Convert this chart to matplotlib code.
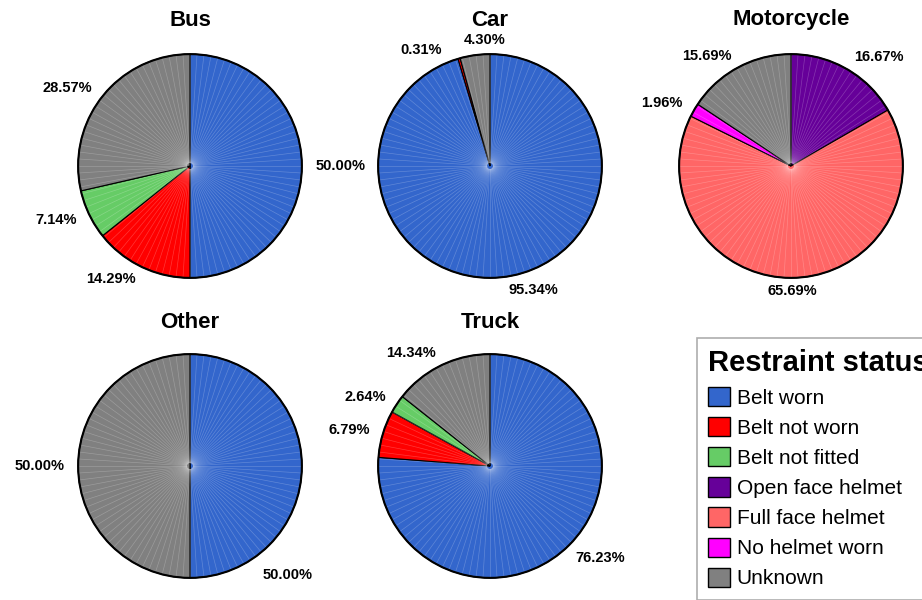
import numpy as np
import matplotlib.pyplot as plt
from matplotlib.patches import Patch, Circle

plt.rcParams['font.family'] = ['Liberation Sans', 'DejaVu Sans']

# restraint categories and colours
categories = ['Belt worn', 'Belt not worn', 'Belt not fitted', 'Open face helmet',
              'Full face helmet', 'No helmet worn', 'Unknown']
colors = ['#3366CC', '#FF0000', '#66CC66', '#660099', '#FF6666', '#FF00FF', '#808080']

# percentage shares per vehicle type (in category order, None = absent)
bus = [50.00, 14.29, 7.14, None, None, None, 28.57]
car = [95.34, 0.31, None, None, None, None, 4.30]
motorcycle = [None, None, None, 16.67, 65.69, 1.96, 15.69]
other = [50.00, None, None, None, None, None, 50.00]
truck = [76.23, 6.79, 2.64, None, None, None, 14.34]

vehicles = ['Bus', 'Car', 'Motorcycle', 'Other', 'Truck']
shares = [bus, car, motorcycle, other, truck]

# layout (pixel centres of the pies) and label nudges in pixels (x right, y down)
W, H, R = 922, 600, 113
centres = [(190, 166), (490, 166), (791, 166), (190, 466), (490, 466)]
title_y = [20, 20, 20, 322, 322]
nudges = {('Car', 1): (-14, 4), ('Car', 6): (33, -2),
          ('Motorcycle', 4): (-28, 0), ('Other', 0): (-53, 110)}

fig = plt.figure(figsize=(W / 100, H / 100), dpi=100)

for name, vals, (cx, cy), ty in zip(vehicles, shares, centres, title_y):
    ax = fig.add_axes([(cx - R) / W, 1 - (cy + R) / H, 2 * R / W, 2 * R / H])
    idx = [i for i, v in enumerate(vals) if v is not None]
    sizes = [vals[i] for i in idx]
    wedges, _ = ax.pie(sizes, colors=[colors[i] for i in idx], startangle=90,
                       counterclock=False, radius=1,
                       wedgeprops=dict(edgecolor='black', linewidth=0.8))
    for w in wedges:
        w.set_zorder(2)
    # faint radial texture like the original rendering
    for a in np.arange(0, 360, 3.6):
        t = np.radians(a)
        ax.plot([0.03 * np.cos(t), 0.99 * np.cos(t)], [0.03 * np.sin(t), 0.99 * np.sin(t)],
                color='white', lw=0.5, alpha=0.22, zorder=3)
    ax.add_patch(Circle((0, 0), 1, fill=False, edgecolor='black', lw=1.5, zorder=4))
    # percentage labels
    total = sum(sizes)
    start = 90.0
    for i, v in zip(idx, sizes):
        span = 360.0 * v / total
        mid = np.radians(start - span / 2)
        start -= span
        x, y = 1.12 * np.cos(mid), 1.12 * np.sin(mid)
        dx, dy = nudges.get((name, i), (0, 0))
        ax.text(x + dx / R, y - dy / R, f'{v:.2f}%', ha='right' if x < 0 else 'left',
                va='center', fontsize=10.5, fontweight='bold', clip_on=False)
    ax.set_xlim(-1.01, 1.01)
    ax.set_ylim(-1.01, 1.01)
    ax.set_aspect('equal')
    ax.axis('off')
    fig.text(cx / W, 1 - ty / H, name, ha='center', va='center',
             fontsize=16, fontweight='bold')

handles = [Patch(facecolor=c, edgecolor='black', linewidth=1) for c in colors]
leg = fig.legend(handles, categories, loc='upper left',
                 bbox_to_anchor=(697 / W, 1 - 338 / H), fontsize=15,
                 title='Restraint status', title_fontproperties=dict(size=21, weight='bold'),
                 alignment='left', frameon=True, fancybox=False, edgecolor='#999999',
                 handlelength=1.05, handleheight=1.05, handletextpad=0.3,
                 labelspacing=0.45, borderpad=0.55, borderaxespad=0)
leg.get_frame().set_linewidth(1.2)

fig.savefig('out.png', dpi=100)
